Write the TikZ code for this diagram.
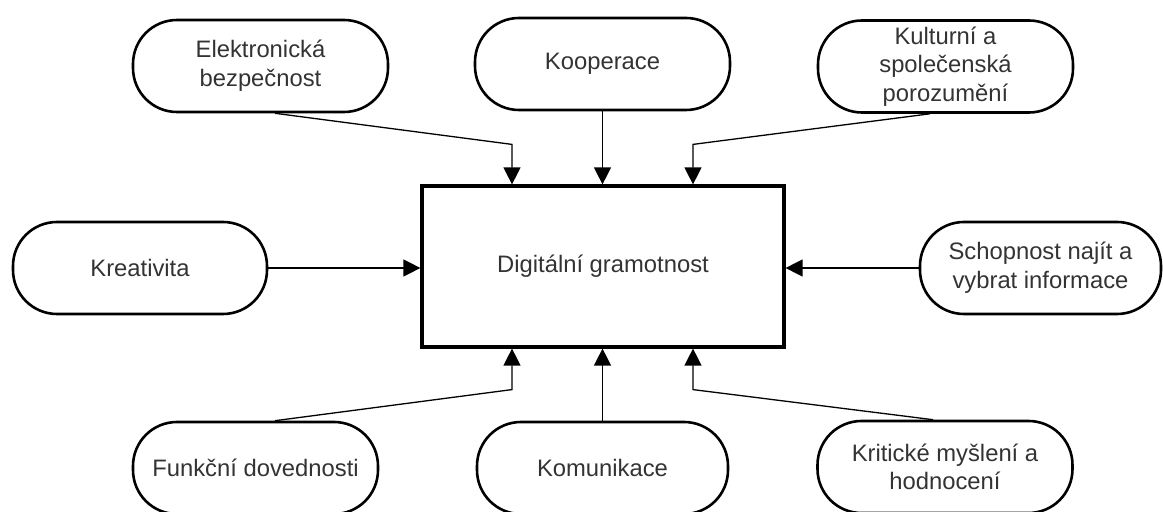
\documentclass[tikz,border=0pt]{standalone}
\usepackage{fontspec}
\setmainfont{Liberation Sans}
\usetikzlibrary{arrows.meta, positioning}

\tikzset{
    pill/.style={draw, line width=1.3pt, rounded corners=22pt, minimum width=127.5pt,
        minimum height=46pt, inner sep=0pt, align=center, text=black!80,
        font=\fontsize{11.9}{14.3}\selectfont},
    mainbox/.style={draw, line width=1.6pt, minimum width=181pt, minimum height=80.5pt,
        inner sep=0pt, text=black!80, font=\fontsize{11.9}{14.3}\selectfont},
    conn/.style={line width=0.65pt, -{Triangle[length=8.5pt,width=8.5pt]}}
}

\begin{document}
\begin{tikzpicture}[x=0.5pt, y=-0.5pt]

    \useasboundingbox (0,0) rectangle (1163,512);

    % Centre
    \node[mainbox] (dg) at (603,266.5) {Digitální gramotnost};

    % Top row
    \node[pill] (elek) at (260.5,66) {Elektronická\\bezpečnost};
    \node[pill] (koop) at (602.5,64) {Kooperace};
    \node[pill] (kult) at (945.5,66.5) {Kulturní a\\společenská\\porozumění};

    % Sides
    \node[pill, minimum width=127pt] (krea) at (140,268) {Kreativita};
    \node[pill, minimum width=120.5pt] (schop) at (1040.5,268) {Schopnost najít a\\vybrat informace};

    % Bottom row
    \node[pill, minimum width=122.5pt] (funk) at (255.5,468) {Funkční dovednosti};
    \node[pill, minimum width=125.5pt] (komu) at (602.5,468) {Komunikace};
    \node[pill] (krit) at (945,467) {Kritické myšlení a\\hodnocení};

    % Arrows from above
    \draw[conn] ([xshift=7.25pt]elek.south) -- ([xshift=-45.5pt, yshift=20pt]dg.north) -- ([xshift=-45.5pt]dg.north);
    \draw[conn] (koop.south) -- (koop.south |- dg.north);
    \draw[conn] ([xshift=-7.75pt]kult.south) -- ([xshift=45pt, yshift=20pt]dg.north) -- ([xshift=45pt]dg.north);

    % Arrows from the sides
    \draw[conn] (krea.east) -- (krea.east -| dg.west);
    \draw[conn] (schop.west) -- (schop.west -| dg.east);

    % Arrows from below
    \draw[conn] ([xshift=9.75pt]funk.north) -- ([xshift=-45.5pt, yshift=-20.5pt]dg.south) -- ([xshift=-45.5pt]dg.south);
    \draw[conn] (komu.north) -- (komu.north |- dg.south);
    \draw[conn] ([xshift=-6pt]krit.north) -- ([xshift=45pt, yshift=-20.5pt]dg.south) -- ([xshift=45pt]dg.south);

\end{tikzpicture}
\end{document}
